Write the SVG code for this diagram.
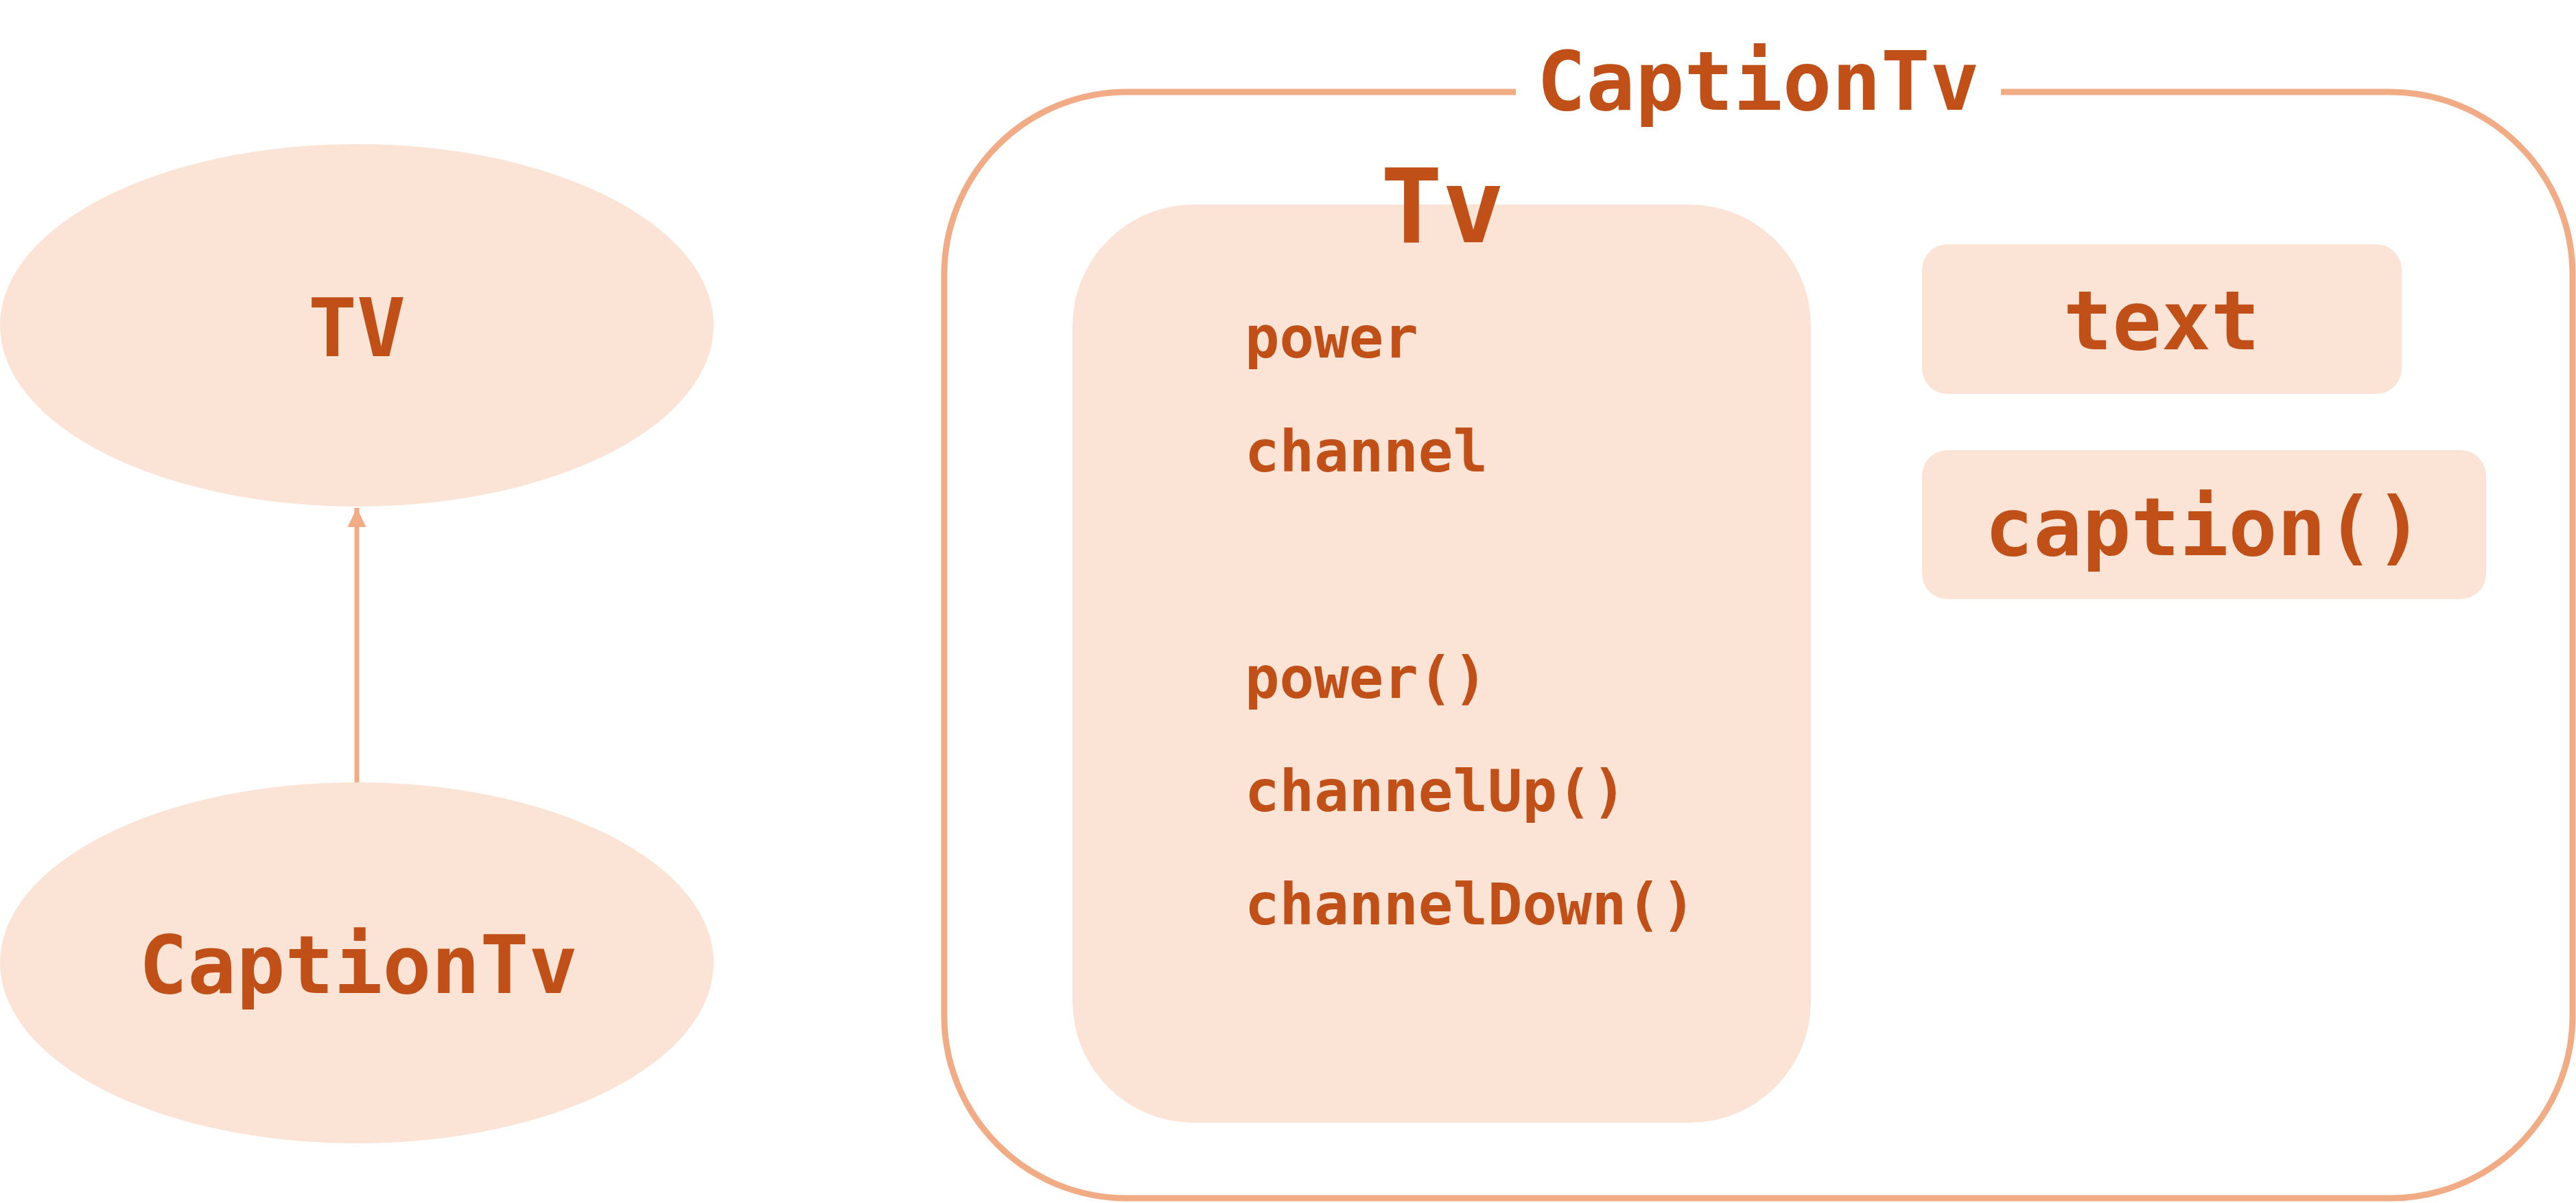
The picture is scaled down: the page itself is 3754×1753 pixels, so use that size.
<svg xmlns="http://www.w3.org/2000/svg" width="3754" height="1753" viewBox="0 0 3754 1753">
  <style>
    .fill { fill: #FBE3D6; }
    .lbl { font-family: "DejaVu Sans Mono", "Liberation Mono", monospace; font-weight: bold; fill: #C05018; }
    .frame { fill: none; stroke: #F2AC85; stroke-width: 9; }
    .conn { stroke: #F2AC85; stroke-width: 7; fill: none; }
  </style>
  <defs>
    <marker id="arrow" markerUnits="userSpaceOnUse" markerWidth="30" markerHeight="30" viewBox="0 0 30 30" refX="28" refY="15" orient="auto">
      <path d="M0,1.5 L28,15 L0,28.5 Z" fill="#F2AC85"/>
    </marker>
  </defs>
  <rect width="3754" height="1753" fill="#FFFFFF"/>

  <g id="node-tv">
    <ellipse class="fill" cx="520" cy="474" rx="520" ry="264"/>
    <text class="lbl" x="520" y="519" font-size="118" text-anchor="middle">TV</text>
  </g>

  <g id="node-captiontv">
    <ellipse class="fill" cx="520" cy="1403" rx="520" ry="263"/>
    <text class="lbl" x="522" y="1447" font-size="118" text-anchor="middle">CaptionTv</text>
  </g>

  <g id="connectors">
    <line class="conn" x1="520" y1="1140" x2="520" y2="740" marker-end="url(#arrow)"/>
  </g>

  <g id="container-captiontv">
    <path class="frame" d="M2209,134 L1642,134 A266,266 0 0 0 1376,400 L1376,1480 A266,266 0 0 0 1642,1746 L3483,1746 A266,266 0 0 0 3749,1480 L3749,400 A266,266 0 0 0 3483,134 L2916,134"/>
    <text class="lbl" x="2562" y="160" font-size="119" text-anchor="middle">CaptionTv</text>
  </g>

  <g id="node-tv-inner">
    <rect class="fill" x="1563" y="298" width="1076" height="1338" rx="177" ry="177"/>
    <text class="lbl" x="2102" y="353" font-size="150" text-anchor="middle">Tv</text>
    <text class="lbl" x="1814" y="521" font-size="84">power</text>
    <text class="lbl" x="1814" y="687" font-size="84">channel</text>
    <text class="lbl" x="1814" y="1017" font-size="84">power()</text>
    <text class="lbl" x="1814" y="1182" font-size="84">channelUp()</text>
    <text class="lbl" x="1814" y="1347" font-size="84">channelDown()</text>
  </g>

  <g id="node-text">
    <rect class="fill" x="2801" y="356" width="699" height="218" rx="37" ry="37"/>
    <text class="lbl" x="3150" y="509" font-size="119" text-anchor="middle">text</text>
  </g>

  <g id="node-caption">
    <rect class="fill" x="2801" y="656" width="822" height="217" rx="37" ry="37"/>
    <text class="lbl" x="3212" y="809" font-size="118" text-anchor="middle">caption()</text>
  </g>
</svg>
